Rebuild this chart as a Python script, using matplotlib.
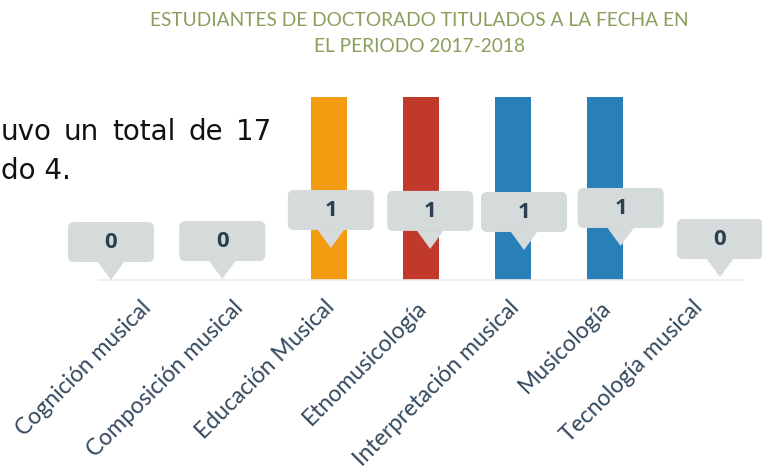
import matplotlib.pyplot as plt
import matplotlib.transforms as mtransforms
from matplotlib.patches import FancyBboxPatch, Polygon

# datos
programas = ['Cognición musical', 'Composición musical', 'Educación Musical',
             'Etnomusicología', 'Interpretación musical', 'Musicología',
             'Tecnología musical']
titulados = [0, 0, 1, 1, 1, 1, 0]
colores = ['#95a5a6', '#95a5a6', '#F39C12', '#C0392B', '#2980B9', '#2980B9', '#95a5a6']

# posicion de la punta de cada globo (desplazamiento x en barras, altura y)
globo_dx = [-0.37, -0.16, 0.02, 0.10, 0.12, 0.17, 0.25]
globo_y = [0.0, 0.005, 0.175, 0.17, 0.164, 0.186, 0.016]

W, H = 762, 470
fig = plt.figure(figsize=(W / 100, H / 100), dpi=100)
ax = fig.add_axes([99 / W, (H - 280) / H, 644 / W, 183 / H])

x = list(range(len(programas)))
ax.bar(x, titulados, width=0.39, color=colores, zorder=1)
ax.set_xlim(-0.5, 6.5)
ax.set_ylim(0, 1)

for s in ['top', 'right', 'left']:
    ax.spines[s].set_visible(False)
ax.spines['bottom'].set_color('#ececec')
ax.spines['bottom'].set_linewidth(1.2)
ax.set_yticks([])
ax.set_xticks(x)
ax.set_xticklabels(programas, rotation=45, ha='right', rotation_mode='anchor',
                   fontsize=16.5, color='#34495e', family='Lato')
ax.tick_params(axis='x', length=0, pad=12)
corr = mtransforms.ScaledTranslation(-0.05, 0, fig.dpi_scale_trans)
for lbl in ax.get_xticklabels():
    lbl.set_transform(lbl.get_transform() + corr)

# globos con el valor
gris = '#d5dadb'
for i, v in enumerate(titulados):
    trans = fig.dpi_scale_trans + mtransforms.ScaledTranslation(
        i + globo_dx[i], globo_y[i], ax.transData)
    caja = FancyBboxPatch((-0.38, 0.23), 0.76, 0.30,
                          boxstyle='round,pad=0.05,rounding_size=0.06',
                          transform=trans, fc=gris, ec='none', clip_on=False, zorder=3)
    pico = Polygon([(-0.135, 0.185), (0.135, 0.185), (0, 0.0)], closed=True,
                   transform=trans, fc=gris, ec='none', clip_on=False, zorder=3)
    ax.add_patch(caja)
    ax.add_patch(pico)
    ax.text(0, 0.375, str(v), transform=trans, ha='center', va='center',
            fontsize=16, fontweight='bold', color='#2c3e50', family='Open Sans', zorder=4)

fig.text(419 / W, 1 - 21 / H, 'ESTUDIANTES DE DOCTORADO TITULADOS A LA FECHA EN',
         ha='center', va='center', fontsize=13.8, color='#8a9f5c', family='Lato')
fig.text(419 / W, 1 - 47 / H, 'EL PERIODO 2017-2018',
         ha='center', va='center', fontsize=13.8, color='#8a9f5c', family='Lato')

# texto del documento que queda detras (justificado)
for palabra, px in [('uvo', 1), ('un', 64), ('total', 112), ('de', 189), ('17', 236)]:
    fig.text(px / W, 1 - 140 / H, palabra, ha='left', va='baseline',
             fontsize=20, color='#111111', family='DejaVu Sans')
fig.text(1 / W, 1 - 179 / H, 'do 4.', ha='left', va='baseline',
         fontsize=20, color='#111111', family='DejaVu Sans')

fig.savefig('out.png', dpi=100)
